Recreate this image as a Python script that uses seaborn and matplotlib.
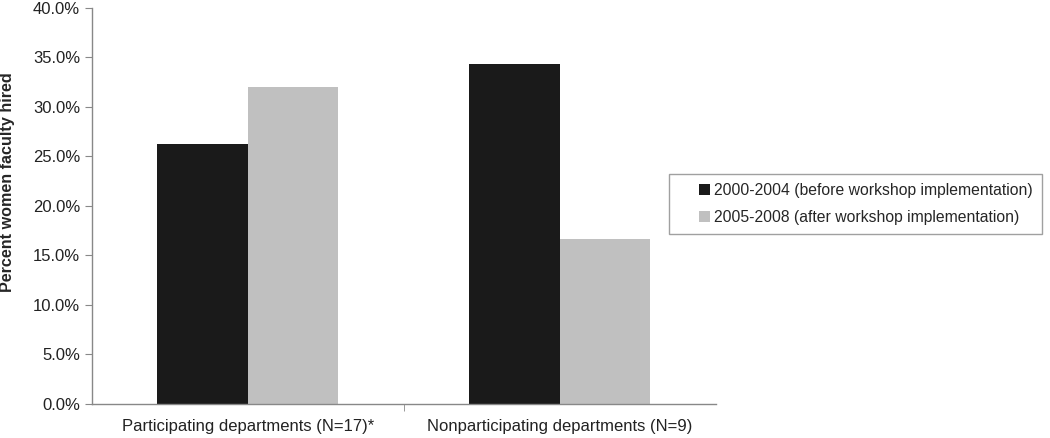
import matplotlib
matplotlib.use("Agg")
import matplotlib.pyplot as plt
import seaborn as sns
import pandas as pd
from matplotlib.ticker import FuncFormatter, FixedLocator
from matplotlib.legend_handler import HandlerPatch
from matplotlib.patches import Rectangle

categories = ["Participating departments (N=17)*", "Nonparticipating departments (N=9)"]
periods = ["2000-2004 (before workshop implementation)", "2005-2008 (after workshop implementation)"]
before = [26.2, 34.3]
after = [32.0, 16.7]

df = pd.DataFrame({
    "dept": categories * 2,
    "period": [periods[0]] * 2 + [periods[1]] * 2,
    "pct": before + after,
})

sns.set_style("white")
plt.rcParams["font.family"] = ["Liberation Sans", "DejaVu Sans"]


class SquareRight(HandlerPatch):
    # small square marker pushed to the right end of the handle box
    def create_artists(self, legend, orig_handle, xdescent, ydescent,
                       width, height, fontsize, trans):
        s = height * 1.0
        p = Rectangle((width - s - xdescent, -ydescent), s, s,
                      facecolor=orig_handle.get_facecolor(), edgecolor="none",
                      transform=trans)
        return [p]


fig = plt.figure(figsize=(10.5, 4.38), dpi=100)
ax = fig.add_axes([0.0876, 0.078, 0.594, 0.904])

sns.barplot(data=df, x="dept", y="pct", hue="period", hue_order=periods,
            palette=["#1a1a1a", "#c0c0c0"], width=0.58, saturation=1,
            linewidth=0, ax=ax, legend=True)

ax.set_ylim(0, 40)
ax.set_xlim(-0.5, 1.5)
ax.set_yticks([0, 5, 10, 15, 20, 25, 30, 35, 40])
ax.yaxis.set_major_formatter(FuncFormatter(lambda v, p: f"{v:.1f}%"))
ax.set_xlabel("")
ax.set_ylabel("Percent women faculty hired", fontsize=11.6, fontweight="bold")
ax.yaxis.set_label_coords(-0.123, 0.56)

for side in ["top", "right"]:
    ax.spines[side].set_visible(False)
for side in ["left", "bottom"]:
    ax.spines[side].set_color("#888888")
    ax.spines[side].set_linewidth(1)

ax.tick_params(axis="y", which="major", length=5, color="#888888", direction="out",
               left=True, labelsize=12, labelcolor="#222222")
ax.tick_params(axis="x", which="major", length=0, labelsize=12, labelcolor="#222222", pad=11)
ax.xaxis.set_minor_locator(FixedLocator([0.5]))
ax.tick_params(axis="x", which="minor", length=5, color="#888888", direction="out", bottom=True)

handles, labels = ax.get_legend_handles_labels()
ax.legend_.remove()
fig.legend(handles, labels, loc="upper left", bbox_to_anchor=(0.637, 0.603),
           frameon=True, fancybox=False, edgecolor="#888888", fontsize=11.3,
           handlelength=2.05, handleheight=0.7, handletextpad=0.2,
           labelspacing=0.75, borderpad=0.6, borderaxespad=0,
           handler_map={Rectangle: SquareRight()})

fig.savefig("out.png", dpi=100)
plt.close(fig)
